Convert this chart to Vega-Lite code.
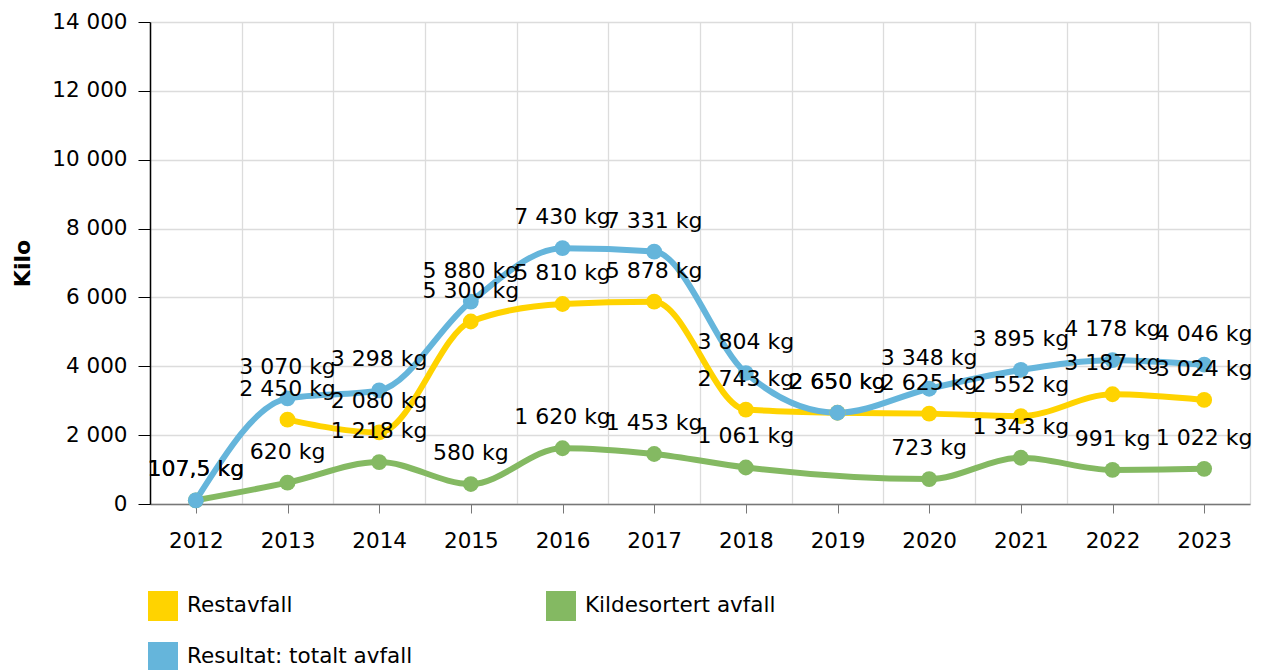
{
  "$schema": "https://vega.github.io/schema/vega-lite/v6.json",
  "width": 1100,
  "height": 482,
  "autosize": {"type": "none"},
  "padding": {"left": 150, "top": 22, "right": 16, "bottom": 166},
  "config": {
    "locale": {"number": {"decimal": ",", "thousands": " ", "grouping": [3], "currency": ["", " kr"]}},
    "font": "DejaVu Sans",
    "view": {"stroke": null},
    "axis": {"labelFont": "DejaVu Sans", "labelFontSize": 21.5, "labelColor": "#000000", "gridColor": "#dcdcdc", "gridWidth": 1.3}
  },
  "data": {
    "values": [
      {"year": 2012, "series": "Kildesortert avfall", "value": 107.5},
      {"year": 2013, "series": "Kildesortert avfall", "value": 620},
      {"year": 2014, "series": "Kildesortert avfall", "value": 1218},
      {"year": 2015, "series": "Kildesortert avfall", "value": 580},
      {"year": 2016, "series": "Kildesortert avfall", "value": 1620},
      {"year": 2017, "series": "Kildesortert avfall", "value": 1453},
      {"year": 2018, "series": "Kildesortert avfall", "value": 1061},
      {"year": 2020, "series": "Kildesortert avfall", "value": 723},
      {"year": 2021, "series": "Kildesortert avfall", "value": 1343},
      {"year": 2022, "series": "Kildesortert avfall", "value": 991},
      {"year": 2023, "series": "Kildesortert avfall", "value": 1022},
      {"year": 2013, "series": "Restavfall", "value": 2450},
      {"year": 2014, "series": "Restavfall", "value": 2080},
      {"year": 2015, "series": "Restavfall", "value": 5300},
      {"year": 2016, "series": "Restavfall", "value": 5810},
      {"year": 2017, "series": "Restavfall", "value": 5878},
      {"year": 2018, "series": "Restavfall", "value": 2743},
      {"year": 2019, "series": "Restavfall", "value": 2650},
      {"year": 2020, "series": "Restavfall", "value": 2625},
      {"year": 2021, "series": "Restavfall", "value": 2552},
      {"year": 2022, "series": "Restavfall", "value": 3187},
      {"year": 2023, "series": "Restavfall", "value": 3024},
      {"year": 2012, "series": "Resultat: totalt avfall", "value": 107.5},
      {"year": 2013, "series": "Resultat: totalt avfall", "value": 3070},
      {"year": 2014, "series": "Resultat: totalt avfall", "value": 3298},
      {"year": 2015, "series": "Resultat: totalt avfall", "value": 5880},
      {"year": 2016, "series": "Resultat: totalt avfall", "value": 7430},
      {"year": 2017, "series": "Resultat: totalt avfall", "value": 7331},
      {"year": 2018, "series": "Resultat: totalt avfall", "value": 3804},
      {"year": 2019, "series": "Resultat: totalt avfall", "value": 2650},
      {"year": 2020, "series": "Resultat: totalt avfall", "value": 3348},
      {"year": 2021, "series": "Resultat: totalt avfall", "value": 3895},
      {"year": 2022, "series": "Resultat: totalt avfall", "value": 4178},
      {"year": 2023, "series": "Resultat: totalt avfall", "value": 4046}
    ]
  },
  "transform": [{"calculate": "format(datum.value, ',.1~f') + ' kg'", "as": "label"}],
  "encoding": {
    "x": {
      "field": "year",
      "type": "quantitative",
      "scale": {"domain": [2011.5, 2023.5], "nice": false, "zero": false},
      "axis": {
        "values": [2011.5, 2012, 2012.5, 2013, 2013.5, 2014, 2014.5, 2015, 2015.5, 2016, 2016.5, 2017, 2017.5, 2018, 2018.5, 2019, 2019.5, 2020, 2020.5, 2021, 2021.5, 2022, 2022.5, 2023, 2023.5],
        "labelExpr": "datum.value % 1 === 0 ? format(datum.value, 'd') : ''",
        "labelOverlap": false,
        "grid": true,
        "gridOpacity": {"condition": {"test": "datum.value % 1 === 0", "value": 0}, "value": 1},
        "tickOpacity": {"condition": {"test": "datum.value % 1 !== 0", "value": 0}, "value": 1},
        "domainColor": "#777777",
        "domainWidth": 1.5,
        "tickColor": "#777777",
        "tickSize": 9,
        "labelPadding": 17,
        "title": null
      }
    },
    "y": {
      "field": "value",
      "type": "quantitative",
      "scale": {"domain": [0, 14000], "nice": false},
      "axis": {
        "values": [0, 2000, 4000, 6000, 8000, 10000, 12000, 14000],
        "format": ",d",
        "grid": true,
        "domainColor": "#000000",
        "domainWidth": 1.5,
        "tickColor": "#000000",
        "tickSize": 12,
        "labelPadding": 11,
        "title": "Kilo",
        "titleFontSize": 22,
        "titleFontWeight": "bold",
        "titleColor": "#000000",
        "titleAngle": -90,
        "titleX": -128,
        "titleY": 241,
        "titleBaseline": "middle",
        "titleAlign": "center"
      }
    },
    "color": {
      "field": "series",
      "type": "nominal",
      "scale": {
        "domain": ["Restavfall", "Kildesortert avfall", "Resultat: totalt avfall"],
        "range": ["#ffd300", "#84b962", "#65b5db"]
      },
      "legend": {
        "title": null,
        "orient": "none",
        "direction": "horizontal",
        "legendX": -2,
        "legendY": 569,
        "columns": 2,
        "columnPadding": 133,
        "rowPadding": 21,
        "padding": 0,
        "labelFont": "DejaVu Sans",
        "labelFontSize": 21.5,
        "labelColor": "#000000",
        "labelOffset": 9,
        "labelLimit": 400,
        "symbolType": "square",
        "symbolSize": 900,
        "symbolStrokeWidth": 0,
        "symbolOpacity": 1,
        "encode": {"symbols": {"update": {"fill": {"scale": "color", "field": "value"}, "strokeWidth": {"value": 0}}}}
      }
    }
  },
  "layer": [
    {"mark": {"type": "line", "interpolate": "monotone", "strokeWidth": 6}},
    {"mark": {"type": "point", "filled": true, "size": 250, "opacity": 1}},
    {
      "mark": {"type": "text", "dy": -31, "fontSize": 22, "baseline": "middle", "align": "center"},
      "encoding": {
        "text": {"field": "label"},
        "color": {"value": "#000000"}
      }
    }
  ]
}
